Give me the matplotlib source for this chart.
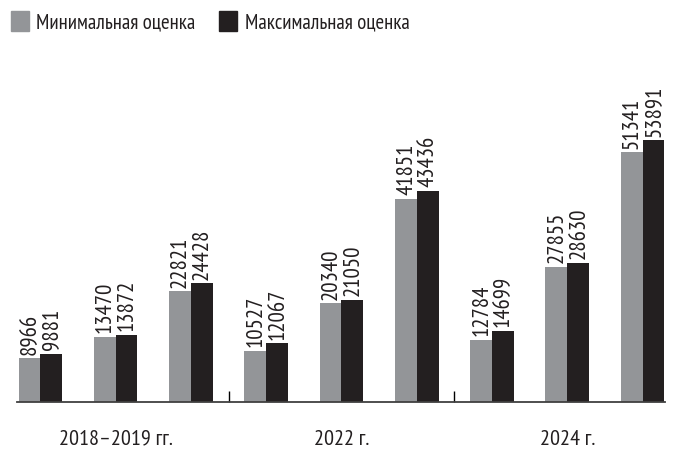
import matplotlib.pyplot as plt
import numpy as np
from matplotlib.patches import Patch

# data
GROUPS = ["2018–2019 гг.", "2022 г.", "2024 г."]
MIN_EST = [8966, 13470, 22821, 10527, 20340, 41851, 12784, 27855, 51341]
MAX_EST = [9881, 13872, 24428, 12067, 21050, 43436, 14699, 28630, 53891]
SERIES = ["Минимальная оценка", "Максимальная оценка"]

GRAY = "#939598"
BLACK = "#231f20"
# narrow sans first, DejaVu as last resort
FONT = ["PT Sans Narrow", "Roboto Condensed", "Open Sans Condensed", "DejaVu Sans"]

plt.rcParams["font.family"] = FONT

fig = plt.figure(figsize=(6.73, 4.49), dpi=100)
ax = fig.add_axes([0.0253, 0.1047, 0.963, 0.7572])

x = np.arange(len(MIN_EST))
w = 0.29
b1 = ax.bar(x - w / 2, MIN_EST, width=w, color=GRAY)
b2 = ax.bar(x + w / 2, MAX_EST, width=w, color=BLACK)

for bars, vals in ((b1, MIN_EST), (b2, MAX_EST)):
    for rect, v in zip(bars, vals):
        ax.annotate(str(v), (rect.get_x() + rect.get_width() / 2, rect.get_height()),
                    xytext=(0.5, 2.5), textcoords="offset points", rotation=90,
                    ha="center", va="bottom", fontsize=16.5, color="#231f20")

ax.set_xlim(-0.31, 8.30)
ax.set_ylim(0, 69940)

for s in ("top", "right", "left"):
    ax.spines[s].set_visible(False)
ax.spines["bottom"].set_color("#404040")
ax.spines["bottom"].set_linewidth(1.3)
ax.set_yticks([])

# group separators as inward ticks, group names as minor tick labels
ax.set_xticks([2.5, 5.5])
ax.set_xticklabels([])
ax.tick_params(axis="x", which="major", direction="in", length=8, width=1, color="black")
ax.set_xticks([1, 4, 7], minor=True)
ax.set_xticklabels(GROUPS, minor=True, fontsize=16, color="#231f20")
ax.tick_params(axis="x", which="minor", length=0, pad=20)

handles = [Patch(color=GRAY), Patch(color=BLACK)]
fig.legend(handles, SERIES, loc="upper left", bbox_to_anchor=(11 / 673, 1 - 11 / 449),
           ncol=2, frameon=False, fontsize=15, handlelength=0.86, handleheight=1.1,
           handletextpad=0.35, columnspacing=1.15, borderpad=0, borderaxespad=0,
           labelcolor="#231f20")

plt.savefig("out.png", dpi=100)
